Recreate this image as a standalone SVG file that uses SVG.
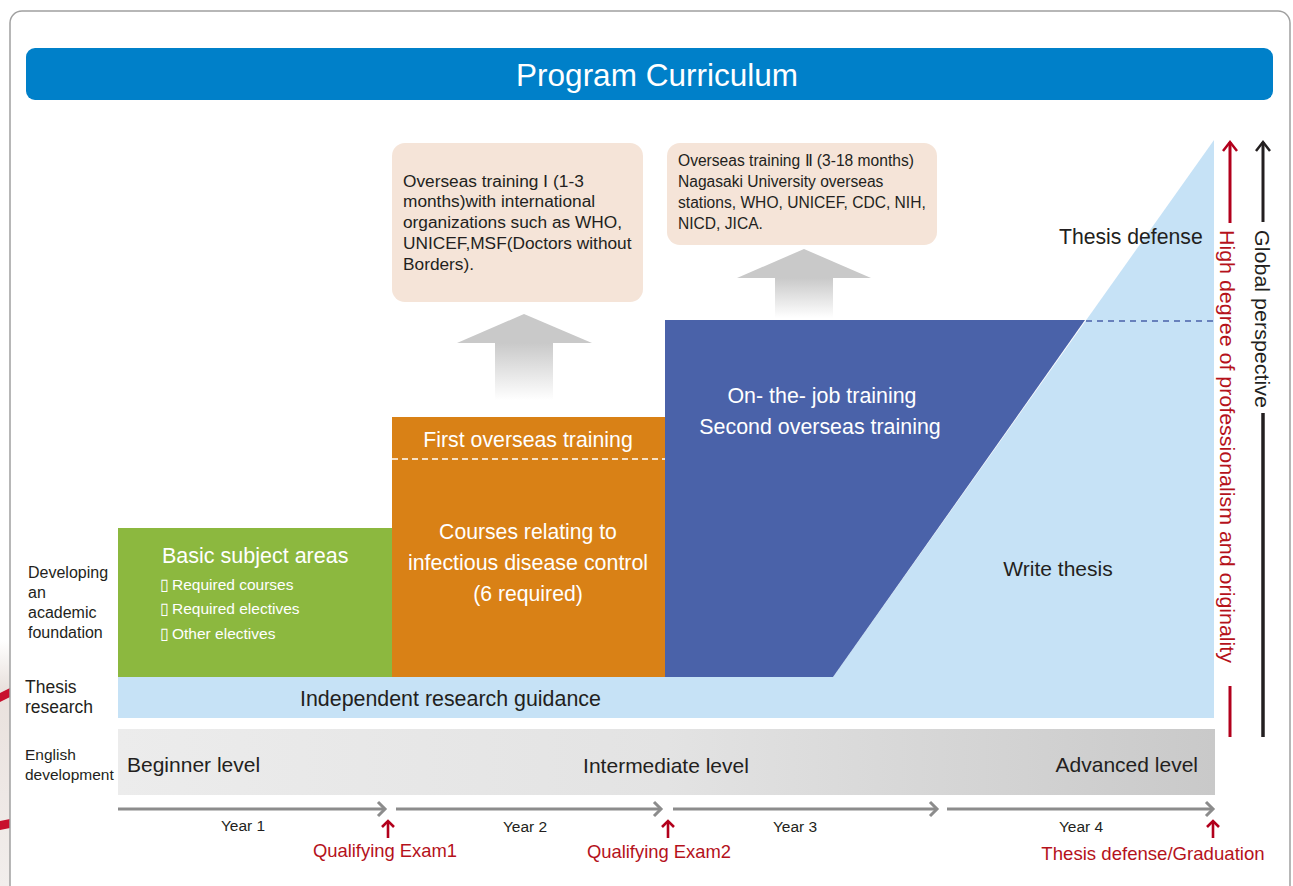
<svg xmlns="http://www.w3.org/2000/svg" width="1293" height="886" viewBox="0 0 1293 886">
<style>
text{font-family:"Liberation Sans",Arial,Helvetica,sans-serif;}
.dk{fill:#231f20;}
.wt{fill:#ffffff;}
.rd{fill:#b5121b;}
.tl{stroke:#8c8c8c;stroke-width:3;fill:none;}
.ra{stroke:#b2001c;stroke-width:2.6;fill:none;}
</style>
<defs>
<linearGradient id="eng" x1="0" y1="0" x2="1" y2="0">
<stop offset="0" stop-color="#ececec"/>
<stop offset="0.5" stop-color="#e3e3e3"/>
<stop offset="1" stop-color="#c9c9c9"/>
</linearGradient>
<linearGradient id="shaft" x1="0" y1="0" x2="0" y2="1">
<stop offset="0" stop-color="#c9c9c9"/>
<stop offset="1" stop-color="#ffffff"/>
</linearGradient>
<linearGradient id="bgl" x1="0" y1="0" x2="0" y2="1">
<stop offset="0" stop-color="#ffffff"/>
<stop offset="0.2" stop-color="#e9e1dd"/>
<stop offset="1" stop-color="#f2eeec"/>
</linearGradient>
</defs>

<!-- left background fragment -->
<g id="bg-fragment">
<rect x="0" y="640" width="10" height="246" fill="url(#bgl)"/>
<polygon points="0,693 10,688 10,697 0,702" fill="#c8102e"/>
<polygon points="0,821 10,819 10,828 0,830" fill="#c8102e"/>
</g>

<!-- frame -->
<rect x="10" y="11" width="1280" height="900" rx="12" fill="none" stroke="#a0a0a0" stroke-width="1.5"/>

<g id="title">
<rect x="26" y="48" width="1247" height="52" rx="9" fill="#0080c9"/>
<text x="657" y="86" text-anchor="middle" class="wt" font-size="31.5">Program Curriculum</text>
</g>

<g id="thesis-band">
<rect x="118" y="677" width="1096" height="41" fill="#c6e2f6"/>
<polygon points="833,677 1214,140 1214,677" fill="#c6e2f6"/>
<text x="300" y="706" class="dk" font-size="21.4">Independent research guidance</text>
</g>

<g id="basic">
<rect x="118" y="528" width="274" height="149" fill="#8cb83f"/>
<text x="162" y="563" class="wt" font-size="21.5">Basic subject areas</text>
<text class="wt" font-size="15.5" y="590"><tspan x="160">▯</tspan><tspan x="172">Required courses</tspan></text>
<text class="wt" font-size="15.5" y="614"><tspan x="160">▯</tspan><tspan x="172">Required electives</tspan></text>
<text class="wt" font-size="15.5" y="639"><tspan x="160">▯</tspan><tspan x="172">Other electives</tspan></text>
</g>

<g id="infectious">
<rect x="392" y="417" width="273" height="260" fill="#d98116"/>
<line x1="392" y1="459" x2="665" y2="459" stroke="#ffffff" stroke-width="1.5" stroke-dasharray="6,4"/>
<text x="528" y="447" text-anchor="middle" class="wt" font-size="21.3">First overseas training</text>
<text x="528" y="539" text-anchor="middle" class="wt" font-size="21.2">Courses relating to</text>
<text x="528" y="570" text-anchor="middle" class="wt" font-size="21.4">infectious disease control</text>
<text x="528" y="601" text-anchor="middle" class="wt" font-size="21.2">(6 required)</text>
</g>

<g id="ojt">
<polygon points="665,320 1085,320 833,677 665,677" fill="#4a62a9"/>
<text x="822" y="403" text-anchor="middle" class="wt" font-size="21.4">On- the- job training</text>
<text x="820" y="434" text-anchor="middle" class="wt" font-size="21.4">Second overseas training</text>
</g>

<g id="thesis">
<line x1="1086" y1="321" x2="1213" y2="321" stroke="#4a62a9" stroke-width="1.5" stroke-dasharray="6,5"/>
<text x="1059" y="244" class="dk" font-size="21.2">Thesis defense</text>
<text x="1058" y="576" text-anchor="middle" class="dk" font-size="21">Write thesis</text>
</g>

<g id="english">
<rect x="118" y="729" width="1097" height="66" fill="url(#eng)"/>
<text x="127" y="772" class="dk" font-size="21">Beginner level</text>
<text x="666" y="773" text-anchor="middle" class="dk" font-size="21">Intermediate level</text>
<text x="1198" y="772" text-anchor="end" class="dk" font-size="21">Advanced level</text>
</g>

<g id="row-labels">
<text class="dk" font-size="16"><tspan x="28" y="578">Developing</tspan><tspan x="28" y="598">an</tspan><tspan x="28" y="618">academic</tspan><tspan x="28" y="638">foundation</tspan></text>
<text class="dk" font-size="17.5"><tspan x="25" y="693">Thesis</tspan><tspan x="25" y="713">research</tspan></text>
<text class="dk" font-size="15.5"><tspan x="25" y="760">English</tspan><tspan x="25" y="780">development</tspan></text>
</g>

<g id="callout1">
<rect x="392" y="143" width="251" height="159" rx="13" fill="#f5e4d8"/>
<text class="dk" font-size="17.3"><tspan x="403" y="187">Overseas training Ⅰ (1-3</tspan><tspan x="403" y="207">months)with international</tspan><tspan x="403" y="228">organizations such as WHO,</tspan><tspan x="403" y="249">UNICEF,MSF(Doctors without</tspan><tspan x="403" y="270">Borders).</tspan></text>
</g>

<g id="callout2">
<rect x="667" y="143" width="270" height="102" rx="13" fill="#f5e4d8"/>
<text class="dk" font-size="15.6"><tspan x="678" y="166">Overseas training Ⅱ (3-18 months)</tspan><tspan x="678" y="187">Nagasaki University overseas</tspan><tspan x="678" y="208">stations, WHO, UNICEF, CDC, NIH,</tspan><tspan x="678" y="229">NICD, JICA.</tspan></text>
</g>

<g id="connectors">
<!-- gray up arrows -->
<rect x="495" y="343" width="58" height="57" fill="url(#shaft)"/>
<polygon points="457,343 592,343 524,314" fill="#c9c9c9"/>
<rect x="775" y="278" width="58" height="40" fill="url(#shaft)"/>
<polygon points="737,278 871,278 804,249" fill="#c9c9c9"/>

<!-- right vertical arrows -->
<line x1="1230" y1="142" x2="1230" y2="223" stroke="#b2001c" stroke-width="3"/>
<polyline points="1223,151 1230,142 1237,151" fill="none" stroke="#b2001c" stroke-width="2.5"/>
<line x1="1230" y1="686" x2="1230" y2="737" stroke="#b2001c" stroke-width="3"/>
<line x1="1263" y1="142" x2="1263" y2="222" stroke="#231f20" stroke-width="3"/>
<polyline points="1256,151 1263,142 1270,151" fill="none" stroke="#231f20" stroke-width="2.5"/>
<line x1="1263" y1="413" x2="1263" y2="737" stroke="#231f20" stroke-width="3.5"/>

<!-- timeline -->
<line class="tl" x1="118" y1="809" x2="385" y2="809"/>
<polyline class="tl" points="378,802 385,809 378,816"/>
<line class="tl" x1="396" y1="809" x2="661" y2="809"/>
<polyline class="tl" points="654,802 661,809 654,816"/>
<line class="tl" x1="673" y1="809" x2="937" y2="809"/>
<polyline class="tl" points="930,802 937,809 930,816"/>
<line class="tl" x1="947" y1="809" x2="1213" y2="809"/>
<polyline class="tl" points="1206,802 1213,809 1206,816"/>

<!-- red milestone arrows -->
<line class="ra" x1="388" y1="821" x2="388" y2="838"/>
<polyline class="ra" points="382,827 388,821 394,827"/>
<line class="ra" x1="668" y1="821" x2="668" y2="838"/>
<polyline class="ra" points="662,827 668,821 674,827"/>
<line class="ra" x1="1213" y1="821" x2="1213" y2="838"/>
<polyline class="ra" points="1207,827 1213,821 1219,827"/>
</g>

<g id="axis-labels">
<text transform="translate(1220,230) rotate(90)" class="rd" font-size="20" textLength="433" lengthAdjust="spacingAndGlyphs">High degree of professionalism and originality</text>
<text transform="translate(1255,230) rotate(90)" class="dk" font-size="20" textLength="178" lengthAdjust="spacingAndGlyphs">Global perspective</text>
</g>

<g id="timeline-labels">
<text x="243" y="831" text-anchor="middle" class="dk" font-size="15.5">Year 1</text>
<text x="525" y="832" text-anchor="middle" class="dk" font-size="15.5">Year 2</text>
<text x="795" y="832" text-anchor="middle" class="dk" font-size="15.5">Year 3</text>
<text x="1081" y="832" text-anchor="middle" class="dk" font-size="15.5">Year 4</text>
<text x="385" y="857" text-anchor="middle" class="rd" font-size="18.4">Qualifying Exam1</text>
<text x="659" y="858" text-anchor="middle" class="rd" font-size="18.4">Qualifying Exam2</text>
<text x="1153" y="860" text-anchor="middle" class="rd" font-size="18.6">Thesis defense/Graduation</text>
</g>
</svg>
